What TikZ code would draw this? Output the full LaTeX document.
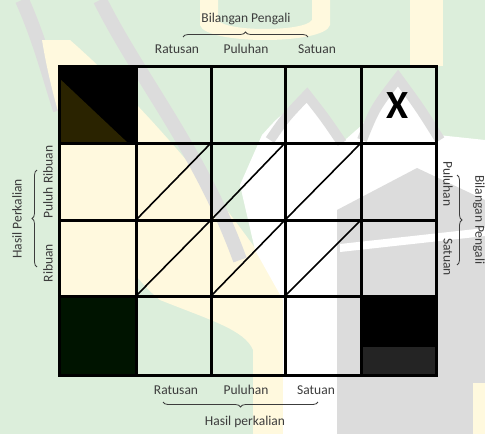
\documentclass[tikz,border=0pt]{standalone}
\usepackage{fontspec}
\setmainfont{Carlito}
\usetikzlibrary{decorations.pathreplacing}
\definecolor{wmgreen}{HTML}{DCEEDB}
\definecolor{wmyellow}{HTML}{FFF9DE}
\definecolor{wmgray}{HTML}{DCDCDC}
\definecolor{txt}{HTML}{3C3C3C}
\definecolor{olive}{HTML}{2A2300}
\tikzset{
  lbl/.style={text=txt,font=\fontsize{13.5}{16}\selectfont,inner sep=0pt},
  brc/.style={draw=txt,line width=0.8pt,decorate,decoration={brace,amplitude=5pt}},
  gridln/.style={line width=3pt,line cap=rect},
  diag/.style={line width=1.6pt},
  wmband/.style={draw=wmgray,line width=14pt}
}
\begin{document}
\begin{tikzpicture}[x=1pt,y=-1pt]
\useasboundingbox (0,0) rectangle (485,434);
% ---- watermark approximation ----
\fill[wmgreen] (0,0) rectangle (485,434);
% top letters
\fill[wmyellow] (200,0) -- (200,25) .. controls (205,45) and (325,45) .. (330,25) -- (330,0) -- (312,0) -- (312,20) .. controls (305,32) and (225,32) .. (218,20) -- (218,0) -- cycle;
\fill[wmyellow] (410,0) rectangle (443,66);
% left leaf bands
\draw[wmband] (22,0) .. controls (40,40) and (50,80) .. (60,110);
\fill[wmyellow] (42,40) .. controls (60,150) and (110,260) .. (160,300) .. controls (210,320) and (245,330) .. (253,350) -- (253,434) -- (285,434) -- (283,290) .. controls (240,220) and (150,110) .. (70,40) -- cycle;
\fill[wmyellow] (59,143) rectangle (136,296);
\draw[wmband] (100,0) .. controls (140,80) and (200,150) .. (240,260);
% white building area
\fill[white] (283,434) -- (283,300) -- (255,250) -- (240,185) -- (262,135) .. controls (280,115) .. (307,98) .. controls (325,115) .. (345,140) -- (362,125) .. controls (375,105) .. (398,82) .. controls (418,105) .. (438,135) -- (485,140) -- (485,434) -- cycle;
\draw[draw=wmgray,line width=10pt] (270,140) .. controls (285,118) .. (307,95) .. controls (325,118) .. (342,143);
\draw[draw=wmgray,line width=10pt] (362,140) .. controls (375,108) .. (398,78) .. controls (420,108) .. (440,140);
\fill[wmgray] (337,434) -- (337,210) -- (417,168) -- (485,200) -- (485,434) -- cycle;
\fill[white] (340,244) -- (485,228) -- (485,236) -- (340,252) -- cycle;
\fill[wmyellow] (473,383) rectangle (485,434);

% ---- black cells ----
\fill[black] (59,66) rectangle (136,143);
\fill[olive] (59,78) -- (59,143) -- (128,143) -- cycle;
\fill[black!92!green] (59,296) rectangle (136,375);
\fill[black] (361,296) rectangle (436,347);
\fill[black!86] (361,347) rectangle (436,375);

% ---- diagonals ----
\foreach \xa/\xb in {136/211,211/285,285/361}{
  \draw[diag] (\xa,220) -- (\xb,143);
  \draw[diag] (\xa,296) -- (\xb,220);
}
% ---- grid lines ----
\foreach \x in {59,136,211,285,361,436}{\draw[gridln] (\x,66) -- (\x,375);}
\foreach \y in {66,143,220,296,375}{\draw[gridln] (59,\y) -- (436,\y);}

% X mark
\node[inner sep=0pt,font=\fontsize{40}{40}\selectfont\bfseries] (xmark) at (398,106) {X};

% top labels
\node[lbl] (tb) at (246,19) {Bilangan Pengali};
\coordinate (tbl) at (183,37);
\coordinate (tbr) at (308,37);
\draw[brc] (tbl) -- (tbr);
\node[lbl] (tr) at (177,49) {Ratusan};
\node[lbl] (tp) at (246,49) {Puluhan};
\node[lbl] (ts) at (317,49) {Satuan};

% bottom labels
\node[lbl] (br) at (176,390) {Ratusan};
\node[lbl] (bp) at (246,390) {Puluhan};
\node[lbl] (bs) at (316,390) {Satuan};
\coordinate (bbr) at (318,402);
\coordinate (bbl) at (163,402);
\draw[brc] (bbr) -- (bbl);
\node[lbl] (bh) at (245,422) {Hasil perkalian};

% left labels
\node[lbl,rotate=90] (lh) at (17,219) {Hasil Perkalian};
\coordinate (lbb) at (37,267);
\coordinate (lbt) at (37,170);
\draw[brc] (lbb) -- (lbt);
\node[lbl,rotate=90] (lpr) at (48,182) {Puluh Ribuan};
\node[lbl,rotate=90] (lr) at (48,263) {Ribuan};

% right labels
\node[lbl,rotate=-90] (rp) at (448,184) {Puluhan};
\node[lbl,rotate=-90] (rs) at (448,257) {Satuan};
\coordinate (rbt) at (457,175);
\coordinate (rbb) at (457,265);
\draw[brc] (rbt) -- (rbb);
\node[lbl,rotate=-90] (rb) at (479,220) {Bilangan Pengali};
\end{tikzpicture}
\end{document}
